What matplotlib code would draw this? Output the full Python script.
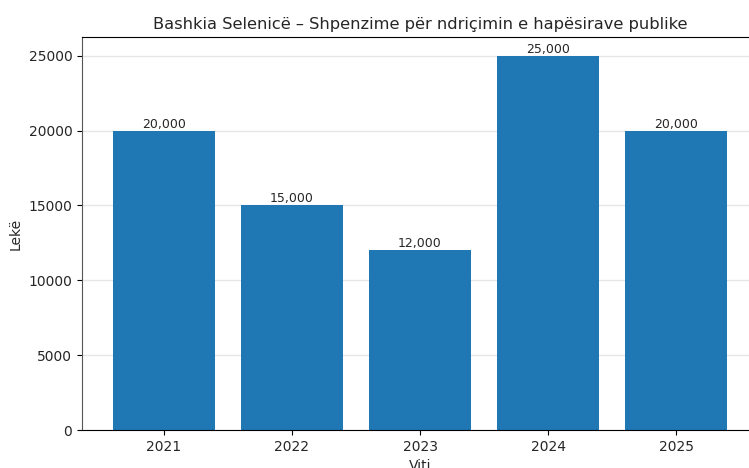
import matplotlib
matplotlib.use("Agg")
import matplotlib.pyplot as plt

years = ["2021", "2022", "2023", "2024", "2025"]
amounts = [20000, 15000, 12000, 25000, 20000]

plt.rcParams["text.color"] = "#262626"
plt.rcParams["axes.labelcolor"] = "#262626"
plt.rcParams["xtick.labelcolor"] = "#262626"
plt.rcParams["ytick.labelcolor"] = "#262626"

fig = plt.figure(figsize=(7.49, 4.68), dpi=100)
ax = fig.add_axes([82 / 749, 1 - 430 / 468, (758 - 82) / 749, (430 - 37) / 468])

bars = ax.bar(years, amounts, color="#1f77b4", width=0.8, zorder=2)
for b, v in zip(bars, amounts):
    ax.text(b.get_x() + b.get_width() / 2, v, f"{v:,}", ha="center", va="bottom", fontsize=9)

ax.set_xlim(-0.64, 4.64)
ax.set_title("Bashkia Selenicë – Shpenzime për ndriçimin e hapësirave publike", fontsize=11.7)
ax.set_xlabel("Viti")
ax.set_ylabel("Lekë")
ax.spines["left"].set_color("#555555")
ax.yaxis.grid(True, color="#e6e6e6", linewidth=1, zorder=0)
ax.set_axisbelow(True)

plt.savefig("out.png", dpi=100)
